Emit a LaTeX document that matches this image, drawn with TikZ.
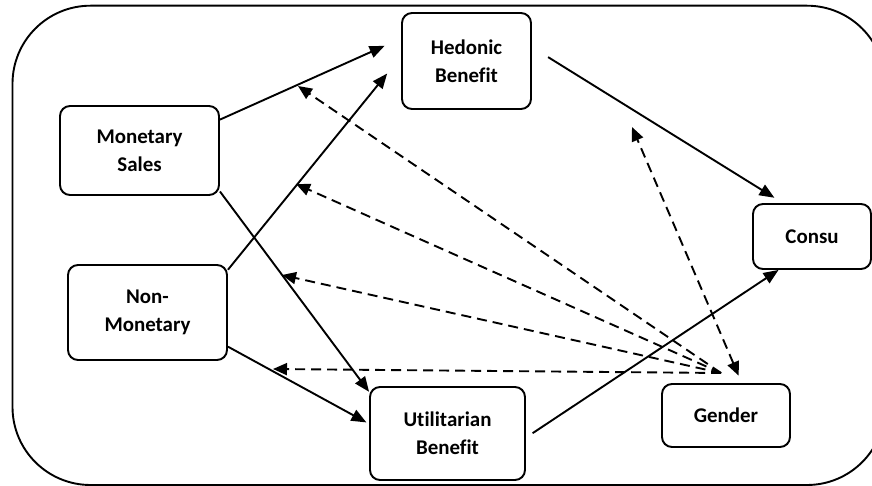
\documentclass[tikz,border=0pt]{standalone}
\usepackage{fontspec}
\setmainfont{Carlito}[Ligatures=NoCommon]
\usetikzlibrary{arrows.meta}

\tikzset{
  factor/.style={draw, line width=1.9bp, rounded corners=10bp, inner sep=0pt,
                 align=center, font=\bfseries\fontsize{21}{28.5}\selectfont},
  path/.style={line width=1.9bp, -{Triangle[length=15bp,width=12bp]}},
  modline/.style={line width=1.9bp, dash pattern=on 10bp off 6bp,
                  -{Triangle[length=14bp,width=12bp]}}
}

\begin{document}
\begin{tikzpicture}[x=1bp,y=-1bp]
  \path[use as bounding box, clip] (0,0) rectangle (872,486);

  % Outer frame
  \draw[line width=1.9bp, rounded corners=78bp] (12.5,5.7) rectangle (885,485);

  % Factors
  \node[factor, minimum width=159bp, minimum height=89bp] (ms) at (139.5,150.5) {Monetary\\Sales};
  \node[factor, minimum width=129bp, minimum height=96bp] (hb) at (466.5,61) {Hedonic\\Benefit};
  \node[factor, minimum width=159bp, minimum height=95bp] (nm) at (147.5,312.5) {Non-\\Monetary};
  \node[factor, minimum width=155bp, minimum height=93bp] (ub) at (447.5,433.5) {Utilitarian\\Benefit};
  \node[factor, minimum width=118bp, minimum height=65bp] (cs) at (812,236.5) {Consu};
  \node[factor, minimum width=128bp, minimum height=63bp] (gd) at (726,415.5) {Gender};

  % Direct paths
  \draw[path, shorten >=18bp] (ms.21) -- (hb.161);
  \draw[path, shorten >=22bp] (nm.28) -- (hb.176);
  \draw[path] (ms.333) -- (ub.152);
  \draw[path, shorten >=3bp] (nm.337) -- (ub.173);
  \draw[path, shorten <=19bp, shorten >=10bp] (hb.12) -- (cs.131);
  \draw[path, shorten <=8bp] (ub.357) -- (cs.225);

  % Moderation by gender
  \coordinate (gs) at (721,373);
  \coordinate (mod1) at (298,86);
  \coordinate (mod2) at (296,184);
  \coordinate (mod3) at (282,275);
  \coordinate (mod4) at (273,369);
  \coordinate (mod5) at (632,127);
  \foreach \m in {mod1,mod2,mod3,mod4} {
    \draw[modline] (gs) -- (\m);
  }
  \draw[modline, {Triangle[length=14bp,width=12bp]}-{Triangle[length=14bp,width=12bp]},
        shorten <=8bp] (gd.64) -- (mod5);
\end{tikzpicture}
\end{document}
